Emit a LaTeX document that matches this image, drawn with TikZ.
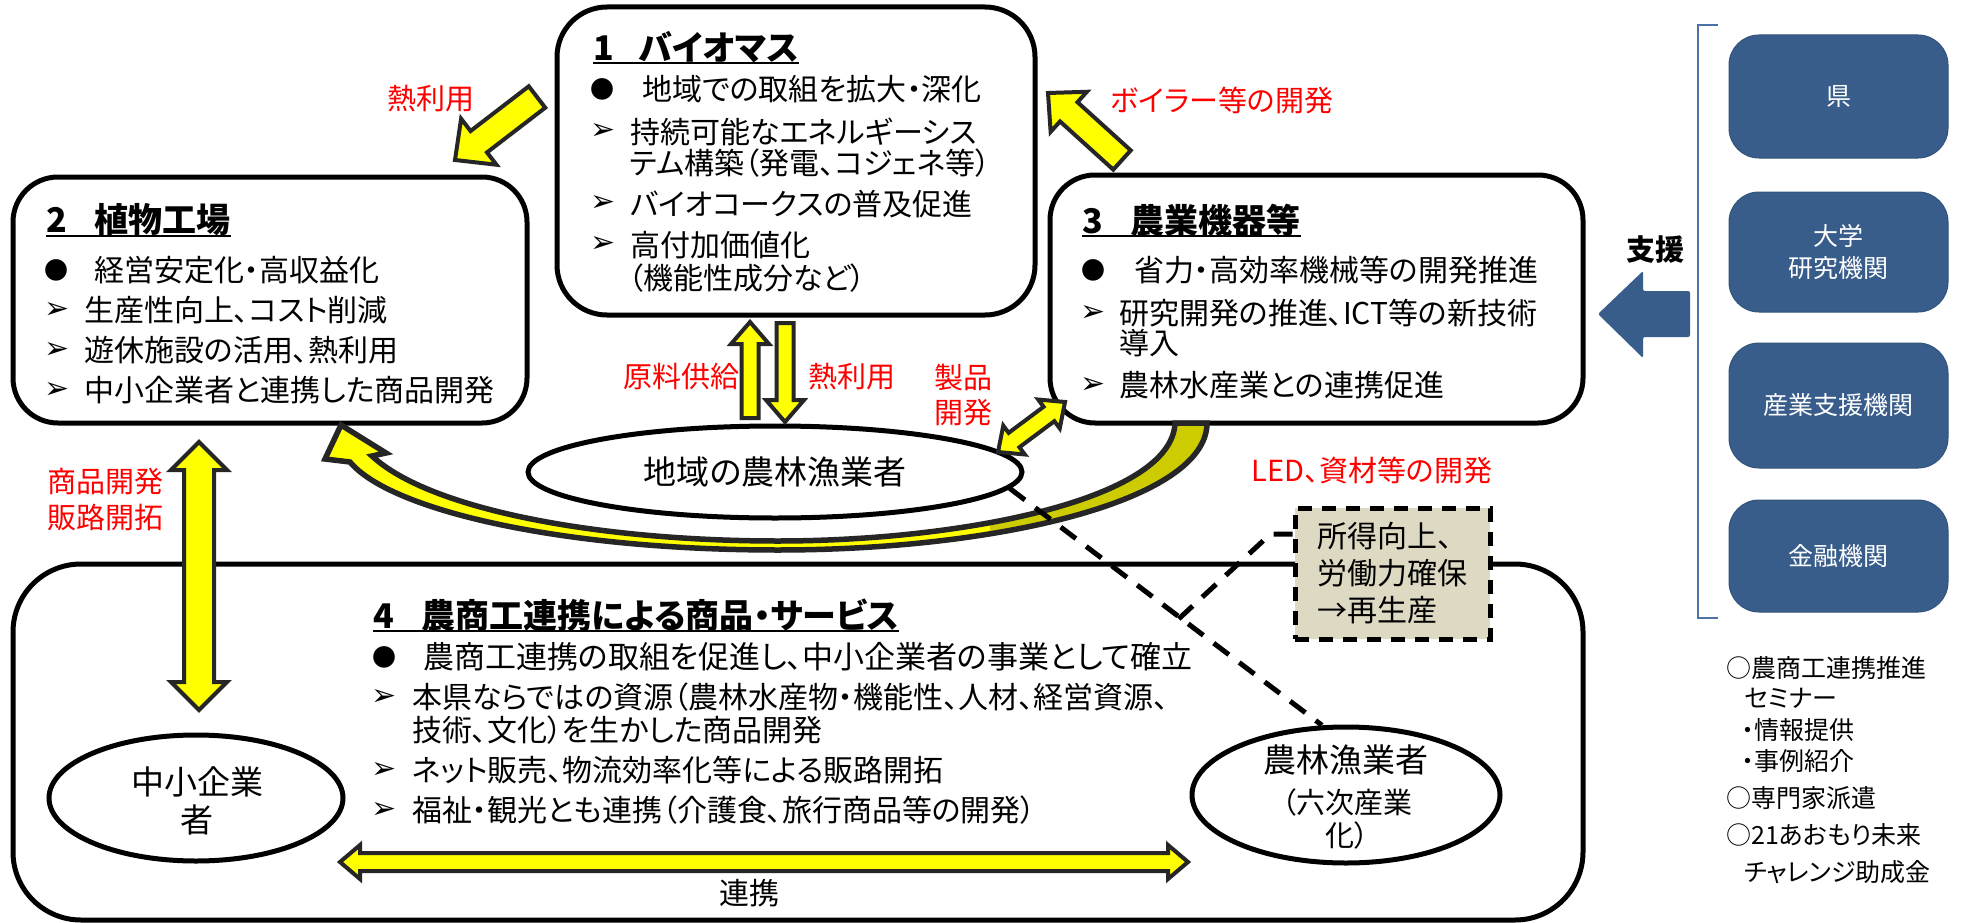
\documentclass[tikz,border=0pt]{standalone}
\usepackage{fontspec}
\setmainfont{Noto Sans CJK JP}[RawFeature=+palt]
\newfontfamily\djv{DejaVu Sans}
\usetikzlibrary{calc,shapes.geometric}
\definecolor{yel}{HTML}{FFFF00}
\definecolor{arrolive}{HTML}{CCCC00}
\definecolor{outl}{HTML}{262626}
\definecolor{bluebox}{HTML}{385D8A}
\definecolor{tanfill}{HTML}{DDD9C3}
\definecolor{brk}{HTML}{4A72A6}
\definecolor{redtxt}{HTML}{FF0000}
\tikzset{
  box/.style={draw=black, line width=5pt, fill=white, inner sep=0pt, rounded corners=45pt},
  ell/.style={ellipse, draw=black, line width=5pt, fill=white, inner sep=0pt},
  body/.style={font=\fontsize{30}{34}\selectfont, inner sep=0pt, anchor=west},
  ttl/.style={font=\bfseries\fontsize{34}{38}\selectfont, inner sep=0pt, anchor=west},
  uline/.style={line width=2.5pt},
  redl/.style={text=redtxt, font=\fontsize{29}{35}\selectfont, inner sep=0pt, align=center},
  bul/.style={font=\fontsize{24}{28}\selectfont, inner sep=0pt},
  arw/.style={font=\djv\fontsize{30}{34}\selectfont, inner sep=0pt},
  yarr/.style={fill=yel, draw=outl, line width=4pt, line join=miter},
  bbox/.style={fill=bluebox, draw=bluebox!90!black, line width=1pt, rounded corners=30pt,
    minimum width=219pt, text=white, font=\fontsize{25}{32}\selectfont, align=center, inner sep=0pt},
  note/.style={font=\fontsize{25}{30}\selectfont, inner sep=0pt, anchor=west},
  dline/.style={line width=5pt, dash pattern=on 19pt off 13pt},
}
\newcommand{\yarrows}[5]{%
  \coordinate (hb) at ($(#2)!#5!(#1)$);
  \filldraw[yarr] ($(#1)!#3!90:(#2)$) -- ($(hb)!#3!90:(#2)$) -- ($(hb)!#4!90:(#2)$) -- (#2)
    -- ($(hb)!#4!-90:(#2)$) -- ($(hb)!#3!-90:(#2)$) -- ($(#1)!#3!-90:(#2)$) -- cycle;
}
\newcommand{\yarrowd}[5]{%
  \coordinate (ha) at ($(#1)!#5!(#2)$);
  \coordinate (hb) at ($(#2)!#5!(#1)$);
  \filldraw[yarr] (#1) -- ($(ha)!#4!90:(#2)$) -- ($(ha)!#3!90:(#2)$) -- ($(hb)!#3!90:(#2)$)
    -- ($(hb)!#4!90:(#2)$) -- (#2) -- ($(hb)!#4!-90:(#2)$) -- ($(hb)!#3!-90:(#2)$)
    -- ($(ha)!#3!-90:(#2)$) -- ($(ha)!#4!-90:(#2)$) -- cycle;
}
\begin{document}
\begin{tikzpicture}[x=1pt, y=-1pt]
\useasboundingbox (0,0) rectangle (1962,923);
\fill[white] (0,0) rectangle (1962,923);

% ---- main boxes
\node[box, rounded corners=68pt, minimum width=1570pt, minimum height=356pt] (b4) at (798,742) {};
\node[box, rounded corners=50pt, minimum width=478pt, minimum height=308pt] (b1) at (796,161) {};
\node[box, minimum width=514pt, minimum height=246pt] (b2) at (270,300) {};
\node[box, minimum width=533pt, minimum height=248pt] (b3) at (1316.5,299) {};

% ---- ellipses
\node[ell, minimum width=494pt, minimum height=92pt] (e1) at (775,472) {};
\node[ell, minimum width=294pt, minimum height=126pt] (e2) at (196,798) {};
\node[ell, minimum width=308pt, minimum height=136pt] (e3) at (1346,795) {};

% ---- big curved arrow (box 3 -> box 2)
\def\curvepath{(1207,423) .. controls (1207,500) and (1000,550) .. (778,550)
  .. controls (560,550) and (390,510) .. (350,462)
  -- (325,459) -- (341,425) -- (386,453) -- (372,456)
  .. controls (430,510) and (600,541) .. (778,541)
  .. controls (960,541) and (1172,500) .. (1175,423) -- cycle}
\fill[yel] \curvepath;
\begin{scope}
  \clip (990,400) rectangle (1250,600);
  \fill[arrolive] \curvepath;
\end{scope}
\draw[outl, line width=5.5pt, line join=miter] \curvepath;

% ---- dashed connectors
\draw[dline] (e1.-4.5) -- (e3.109);
\node[draw=black, fill=tanfill, line width=5pt, dash pattern=on 14pt off 10pt,
  minimum width=195pt, minimum height=131pt, inner sep=0pt,
  font=\fontsize{30}{37}\selectfont, align=left] (db) at (1392.5,573.5)
  {所得向上、\\労働力確保\\→再生産};
\coordinate (dbk) at ($(db.west)+(-22,-39.5)$);
\coordinate (dbe) at ($(dbk)+(-93,86)$);
\draw[dline] ([yshift=39.5pt]db.west) -- (dbk) -- (dbe);

% ---- yellow block arrows
\coordinate (a1s) at (537,97);   \coordinate (a1e) at (455,160);
\yarrows{a1s}{a1e}{13.5pt}{29pt}{30pt}
\coordinate (a2s) at (1122,160); \coordinate (a2e) at (1048,93);
\yarrows{a2s}{a2e}{13pt}{27pt}{28pt}
\coordinate (a3s) at (750,418);  \coordinate (a3e) at (750,322);
\yarrows{a3s}{a3e}{8.5pt}{19pt}{22pt}
\coordinate (a4s) at (785,323);  \coordinate (a4e) at (785,422);
\yarrows{a4s}{a4e}{8.5pt}{19pt}{22pt}
\coordinate (a5s) at (998,452);  \coordinate (a5e) at (1065,402);
\yarrowd{a5s}{a5e}{9pt}{18pt}{20pt}
\coordinate (a6s) at (199,442);  \coordinate (a6e) at (199,710);
\yarrowd{a6s}{a6e}{15pt}{28pt}{28pt}
\coordinate (a7s) at (340,862);  \coordinate (a7e) at (1188,862);
\yarrowd{a7s}{a7e}{9pt}{17pt}{20pt}

% ---- support arrow and bracket
\fill[bluebox, rounded corners=2pt] (1598,314) -- (1643,271) -- (1643,291) -- (1690,291)
  -- (1690,337) -- (1643,337) -- (1643,358) -- cycle;
\draw[brk, line width=2pt] (1718,25) -- (1698,25) -- (1698,618) -- (1718,618);
\node[font=\bfseries\fontsize{29}{32}\selectfont, inner sep=0pt] (sien) at (1655,250) {支援};

\node[bbox, minimum height=123pt] (k1) at (1838.5,96.5) {県};
\node[bbox, minimum height=120pt] (k2) at (1838.5,252) {大学\\研究機関};
\node[bbox, minimum height=125pt] (k3) at (1838.5,405.5) {産業支援機関};
\node[bbox, minimum height=112pt] (k4) at (1838.5,556) {金融機関};

% ---- box 1 text
\node[ttl] (t1) at (593,47) {1\hspace{25pt}バイオマス};
\draw[uline] (t1.west |- 0,63) -- (t1.east |- 0,63);
\node[bul] (p11) at (602,89) {●};
\node[body] (l11) at (642,89) {地域での取組を拡大・深化};
\node[arw] (p12) at (603,132) {➢};
\node[body] (l12) at (630,132) {持続可能なエネルギーシス};
\node[body] (l12b) at (630,163) {テム構築（発電、コジェネ等）};
\node[arw] (p13) at (603,204) {➢};
\node[body] (l13) at (630,204) {バイオコークスの普及促進};
\node[arw] (p14) at (603,245) {➢};
\node[body] (l14) at (630,245) {高付加価値化};
\node[body] (l14b) at (628,278) {（機能性成分など）};

% ---- box 2 text
\node[ttl] (t2) at (46,220) {2\hspace{28pt}植物工場};
\draw[uline] (t2.west |- 0,236) -- (t2.east |- 0,236);
\node[bul] (p21) at (56,270) {●};
\node[body] (l21) at (94,270) {経営安定化・高収益化};
\node[arw] (p22) at (57,310) {➢};
\node[body] (l22) at (84,310) {生産性向上、コスト削減};
\node[arw] (p23) at (57,350) {➢};
\node[body] (l23) at (84,350) {遊休施設の活用、熱利用};
\node[arw] (p24) at (57,390) {➢};
\node[body] (l24) at (84,390) {中小企業者と連携した商品開発};

% ---- box 3 text
\node[ttl] (t3) at (1082,220) {3\hspace{28pt}農業機器等};
\draw[uline] (t3.west |- 0,236) -- (t3.east |- 0,236);
\node[bul] (p31) at (1093,270) {●};
\node[body] (l31) at (1134,270) {省力・高効率機械等の開発推進};
\node[arw] (p32) at (1093,313) {➢};
\node[body] (l32) at (1119,313) {研究開発の推進、ICT等の新技術};
\node[body] (l32b) at (1119,343) {導入};
\node[arw] (p33) at (1093,385) {➢};
\node[body] (l33) at (1119,385) {農林水産業との連携促進};

% ---- box 4 text
\node[ttl] (t4) at (373,615) {4\hspace{28pt}農商工連携による商品・サービス};
\draw[uline] (t4.west |- 0,631) -- (t4.east |- 0,631);
\node[bul] (p41) at (384,657) {●};
\node[body, font=\fontsize{31}{34}\selectfont] (l41) at (423,657) {農商工連携の取組を促進し、中小企業者の事業として確立};
\node[arw] (p42) at (384,697) {➢};
\node[body] (l42) at (412,697) {本県ならではの資源（農林水産物・機能性、人材、経営資源、};
\node[body] (l42b) at (412,730) {技術、文化）を生かした商品開発};
\node[arw] (p43) at (384,770) {➢};
\node[body] (l43) at (412,770) {ネット販売、物流効率化等による販路開拓};
\node[arw] (p44) at (384,810) {➢};
\node[body] (l44) at (412,810) {福祉・観光とも連携（介護食、旅行商品等の開発）};
\node[body, anchor=center] (renkei) at (749,893) {連携};

% ---- ellipse texts
\node[font=\fontsize{33}{38}\selectfont, inner sep=0pt] (e1t) at (775,472) {地域の農林漁業者};
\node[font=\fontsize{33}{38}\selectfont, inner sep=0pt] (e2t1) at (197,782) {中小企業};
\node[font=\fontsize{33}{38}\selectfont, inner sep=0pt] (e2t2) at (197,820) {者};
\node[font=\fontsize{33}{38}\selectfont, inner sep=0pt] (e3t1) at (1346,760) {農林漁業者};
\node[font=\fontsize{29}{33}\selectfont, inner sep=0pt] (e3t2) at (1347,802) {（六次産業};
\node[font=\fontsize{29}{33}\selectfont, inner sep=0pt] (e3t3) at (1347,835) {化）};

% ---- red labels
\node[redl] (r1) at (431,99) {熱利用};
\node[redl] (r2) at (1222,100) {ボイラー等の開発};
\node[redl] (r3) at (681,377) {原料供給};
\node[redl] (r4) at (852,377) {熱利用};
\node[redl] (r5) at (963,395) {製品\\開発};
\node[redl, font=\fontsize{29}{36}\selectfont] (r6) at (105,500) {商品開発\\販路開拓};
\node[redl] (r7) at (1372,470) {LED、資材等の開発};

% ---- notes
\node[note] (n1) at (1726,668) {○農商工連携推進};
\node[note] (n2) at (1744,698) {セミナー};
\node[note] (n3) at (1742,730) {・情報提供};
\node[note] (n4) at (1742,761) {・事例紹介};
\node[note] (n5) at (1726,798) {○専門家派遣};
\node[note] (n6) at (1726,835) {○21あおもり未来};
\node[note] (n7) at (1744,872) {チャレンジ助成金};
\end{tikzpicture}
\end{document}
